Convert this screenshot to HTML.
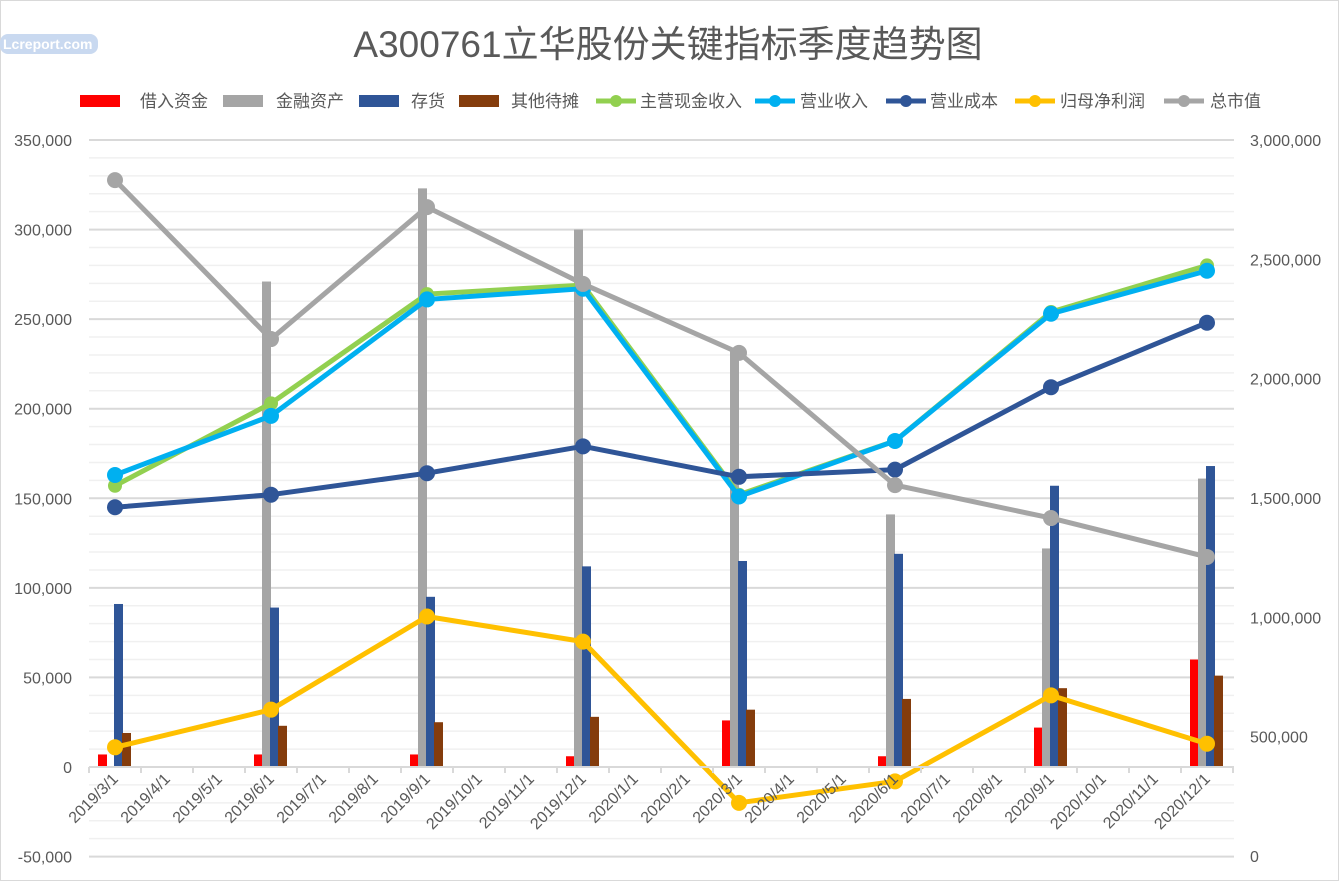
<!DOCTYPE html>
<html><head><meta charset="utf-8"><style>
body{margin:0;background:#fff;}
svg{display:block;font-family:"Liberation Sans","Noto Sans CJK SC",sans-serif;}
</style></head><body>
<svg id="c" width="1339" height="881" xmlns="http://www.w3.org/2000/svg">
<rect x="0.5" y="0.5" width="1338" height="880" fill="#fff" stroke="#d9d9d9"/>
<text x="668" y="57" text-anchor="middle" font-size="37" fill="#595959">A300761立华股份关键指标季度趋势图</text>
<g><rect x="0" y="34" width="98" height="20" rx="8" fill="#c9d9f0"/><text x="3" y="49" font-size="14" fill="#fff" font-weight="bold">Lcreport.com</text></g>
<g id="grid"></g><g id="bars"></g><g id="lines"></g><g id="axes"></g><g id="legend"></g>
</svg>
<script>
const months=["2019/3/1","2019/4/1","2019/5/1","2019/6/1","2019/7/1","2019/8/1","2019/9/1","2019/10/1","2019/11/1","2019/12/1","2020/1/1","2020/2/1","2020/3/1","2020/4/1","2020/5/1","2020/6/1","2020/7/1","2020/8/1","2020/9/1","2020/10/1","2020/11/1","2020/12/1"];
const quarterIdx=[0,3,6,9,12,15,18,21];
const borrow=[7000,7000,7000,6000,26000,6000,22000,60000];
const finAssets=[500,271000,323000,300000,232000,141000,122000,161000];
const inventory=[91000,89000,95000,112000,115000,119000,157000,168000];
const otherPending=[19000,23000,25000,28000,32000,38000,44000,51000];
const cashRevenue=[157000,203000,264000,269000,152000,182000,254000,280000];
const revenue=[163000,196000,261000,267000,151000,182000,253000,277000];
const cost=[145000,152000,164000,179000,162000,166000,212000,248000];
const netProfit=[11000,32000,84000,70000,-20000,-8000,40000,13000];
const marketCap=[2832000,2166000,2719000,2397000,2108000,1554000,1416000,1253000];
const leftTicks=[-50000,0,50000,100000,150000,200000,250000,300000,350000];
const rightTicks=[0,500000,1000000,1500000,2000000,2500000,3000000];

const NS="http://www.w3.org/2000/svg";
const X0=89,SLOT=52,YT=140,YB=856;
const yL=v=>767-(v-0)*(767-YT)/350000;
const yR=v=>YB-v*(YB-YT)/3000000;
const xC=i=>X0+SLOT/2+SLOT*i;
function mk(p,tag,at){const e=document.createElementNS(NS,tag);for(const k in at)e.setAttribute(k,at[k]);p.appendChild(e);return e;}
const fmt=v=>v.toLocaleString("en-US");
const G=document.getElementById("grid"),B=document.getElementById("bars"),L=document.getElementById("lines"),A=document.getElementById("axes"),LG=document.getElementById("legend");
for(let v=-50000;v<=350000;v+=10000){
  const l=mk(G,"line",{x1:X0,x2:1234,y1:yL(v),y2:yL(v),stroke:v%50000===0?"#d9d9d9":"#f0f0f0","stroke-width":v%50000===0?2:1.5});
  
  
}
leftTicks.forEach(v=>{const t=mk(A,"text",{x:72,y:yL(v)+6,"text-anchor":"end","font-size":16,fill:"#595959"});t.textContent=fmt(v);
  
  });
rightTicks.forEach(v=>{const t=mk(A,"text",{x:1250,y:yR(v)+6,"font-size":16,fill:"#595959"});t.textContent=fmt(v);
  
  });
const ax=mk(A,"line",{x1:X0,x2:1234,y1:yL(0),y2:yL(0),stroke:"#d9d9d9","stroke-width":2});


for(let i=0;i<=months.length;i++){const t=mk(A,"line",{x1:X0+SLOT*i,x2:X0+SLOT*i,y1:yL(0),y2:yL(0)+6,stroke:"#d9d9d9","stroke-width":2});
  
  }
months.forEach((m,i)=>{const x=xC(i)+4,y=yL(0)+13;const t=mk(A,"text",{x:x,y:y,"text-anchor":"end","font-size":16,fill:"#595959",transform:`rotate(-45 ${x} ${y})`});t.textContent=m;
  
  });
const barSeries=[[borrow,"#ff0000","bar-borrow"],[finAssets,"#a5a5a5","bar-financial-assets"],[inventory,"#2f5597","bar-inventory"],[otherPending,"#843c0c","bar-other-pending"]];
barSeries.forEach(([d,c,n],s)=>{d.forEach((v,k)=>{const x=xC(quarterIdx[k])-17+s*8;const y0=yL(0),y1=yL(v);
  const r=mk(B,"rect",{x:x,y:Math.min(y0,y1),width:9,height:Math.abs(y0-y1),fill:c});
  
  });});
const lineSeries=[[cashRevenue,"#92d050",yL,"line-cash-revenue",7],[revenue,"#00b0f0",yL,"line-revenue",8],[cost,"#2f5597",yL,"line-cost",8],[netProfit,"#ffc000",yL,"line-net-profit",8],[marketCap,"#a5a5a5",yR,"line-market-cap",8]];
lineSeries.forEach(([d,c,f,n,r])=>{const pts=d.map((v,k)=>[xC(quarterIdx[k]),f(v)]);
  const p=mk(L,"polyline",{points:pts.map(p=>p.join(",")).join(" "),fill:"none",stroke:c,"stroke-width":5,"stroke-linejoin":"round"});
  
  
  pts.forEach(q=>{const m=mk(L,"circle",{cx:q[0],cy:q[1],r:r,fill:c});
    
    });});
const leg=[["借入资金","#ff0000","bar",80,140],["金融资产","#a5a5a5","bar",223,276],["存货","#2f5597","bar",359,411],["其他待摊","#843c0c","bar",459,511],["主营现金收入","#92d050","line",596,640],["营业收入","#00b0f0","line",755,800],["营业成本","#2f5597","line",886,930],["归母净利润","#ffc000","line",1015,1060],["总市值","#a5a5a5","line",1164,1210]];
leg.forEach(([t,c,k,x,tx])=>{const g=mk(LG,"g",{});
  
  
  if(k==="bar")mk(g,"rect",{x:x,y:95,width:40,height:12,fill:c});
  else{mk(g,"line",{x1:x,x2:x+40,y1:101,y2:101,stroke:c,"stroke-width":5});mk(g,"circle",{cx:x+20,cy:101,r:6,fill:c});}
  const e=mk(g,"text",{x:tx,y:107,"font-size":17,fill:"#595959"});e.textContent=t;});
</script>
</body></html>
